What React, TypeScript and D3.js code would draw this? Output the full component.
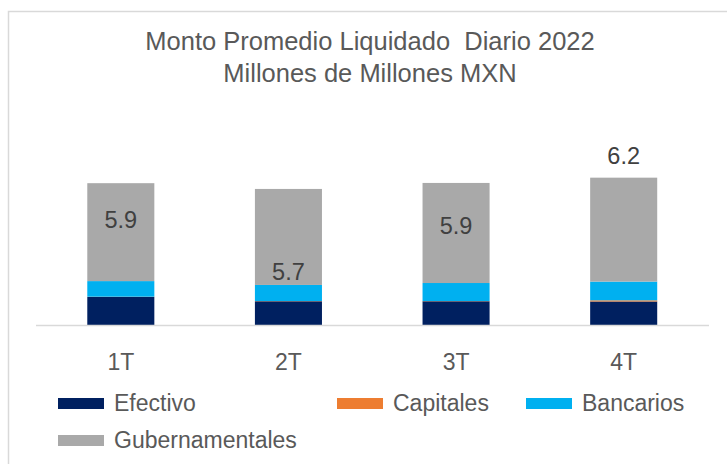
import React, { useEffect, useRef } from "react";
import * as d3 from "d3";

// quarters and series (millones de millones MXN)
const quarters = ["1T", "2T", "3T", "4T"];
const efectivo = [1.19, 1.01, 1.01, 1.0];
const capitales = [0.01, 0.01, 0.01, 0.05];
const bancarios = [0.65, 0.67, 0.75, 0.78];
const gubernamentales = [4.08, 4.0, 4.17, 4.33];

const seriesNames = ["Efectivo", "Capitales", "Bancarios", "Gubernamentales"];
const seriesColors = ["#002060", "#ED7D31", "#00B0F0", "#A9A9A9"];

const titleLines = ["Monto Promedio Liquidado  Diario 2022", "Millones de Millones MXN"];

const width = 727;
const height = 464;
const font = "'Liberation Sans', Arial, sans-serif";
const textColor = "#595959";

// manual data-label offsets from bar top (baseline), as in the original
const labelDy = [45, 91, 51, -14];

const App: React.FC = () => {
  const svgRef = useRef<SVGSVGElement>(null);

  useEffect(() => {
    if (!svgRef.current) return;
    const svg = d3.select(svgRef.current);
    svg.selectAll("*").remove();

    // chart area border (runs off the right/bottom of the picture)
    svg
      .append("rect")
      .attr("x", 8.5)
      .attr("y", 11.5)
      .attr("width", 730)
      .attr("height", 470)
      .attr("fill", "white")
      .attr("stroke", "#d9d9d9")
      .attr("stroke-width", 1.5);

    // title
    const title = svg
      .append("text")
      .attr("text-anchor", "middle")
      .style("font-family", font)
      .style("font-size", "25.5px")
      .style("white-space", "pre")
      .style("fill", textColor);
    titleLines.forEach((line, i) => {
      title
        .append("tspan")
        .attr("x", 370)
        .attr("y", 50 + i * 32)
        .text(line);
    });

    const x = d3
      .scaleBand<string>()
      .domain(quarters)
      .range([37, 707.5])
      .paddingInner(0.6)
      .paddingOuter(0.3);

    const y = d3.scaleLinear().domain([0, 7]).range([325.5, 325.5 - 168]);

    const rows = quarters.map((q, i) => ({
      q,
      Efectivo: efectivo[i],
      Capitales: capitales[i],
      Bancarios: bancarios[i],
      Gubernamentales: gubernamentales[i],
    }));

    const stacked = d3.stack<any>().keys(seriesNames)(rows);

    svg
      .append("g")
      .selectAll("g")
      .data(stacked)
      .join("g")
      .attr("fill", (_, i) => seriesColors[i])
      .selectAll("rect")
      .data((d) => d)
      .join("rect")
      .attr("x", (d) => x(d.data.q)!)
      .attr("width", x.bandwidth())
      .attr("y", (d) => y(d[1]))
      .attr("height", (d) => y(d[0]) - y(d[1]));

    // category axis line
    svg
      .append("line")
      .attr("x1", 36)
      .attr("x2", 709)
      .attr("y1", y(0))
      .attr("y2", y(0))
      .attr("stroke", "#d9d9d9")
      .attr("stroke-width", 1.5);

    // category labels
    svg
      .append("g")
      .selectAll("text")
      .data(quarters)
      .join("text")
      .attr("x", (d) => x(d)! + x.bandwidth() / 2)
      .attr("y", 370)
      .attr("text-anchor", "middle")
      .style("font-family", font)
      .style("font-size", "23px")
      .style("fill", textColor)
      .text((d) => d);

    // total labels
    const totals = quarters.map(
      (_, i) => efectivo[i] + capitales[i] + bancarios[i] + gubernamentales[i]
    );
    svg
      .append("g")
      .selectAll("text")
      .data(totals)
      .join("text")
      .attr("x", (_, i) => x(quarters[i])! + x.bandwidth() / 2)
      .attr("y", (d, i) => y(d) + labelDy[i])
      .attr("text-anchor", "middle")
      .style("font-family", font)
      .style("font-size", "23.5px")
      .style("fill", "#404040")
      .text((d) => d.toFixed(1));

    // legend
    const legendCols = [58, 337, 526];
    const legend = svg
      .append("g")
      .selectAll("g")
      .data(seriesNames)
      .join("g")
      .attr("transform", (_, i) => {
        const col = i % 3;
        const row = Math.floor(i / 3);
        return `translate(${legendCols[col]}, ${398 + row * 37})`;
      });
    legend
      .append("rect")
      .attr("width", 46)
      .attr("height", 11)
      .attr("fill", (_, i) => seriesColors[i]);
    legend
      .append("text")
      .attr("x", 56)
      .attr("y", 13)
      .style("font-family", font)
      .style("font-size", "23px")
      .style("fill", textColor)
      .text((d) => d);
  }, []);

  return (
    <svg
      ref={svgRef}
      width={width}
      height={height}
      style={{ position: "absolute", left: 0, top: 0, background: "white" }}
    />
  );
};

export default App;
